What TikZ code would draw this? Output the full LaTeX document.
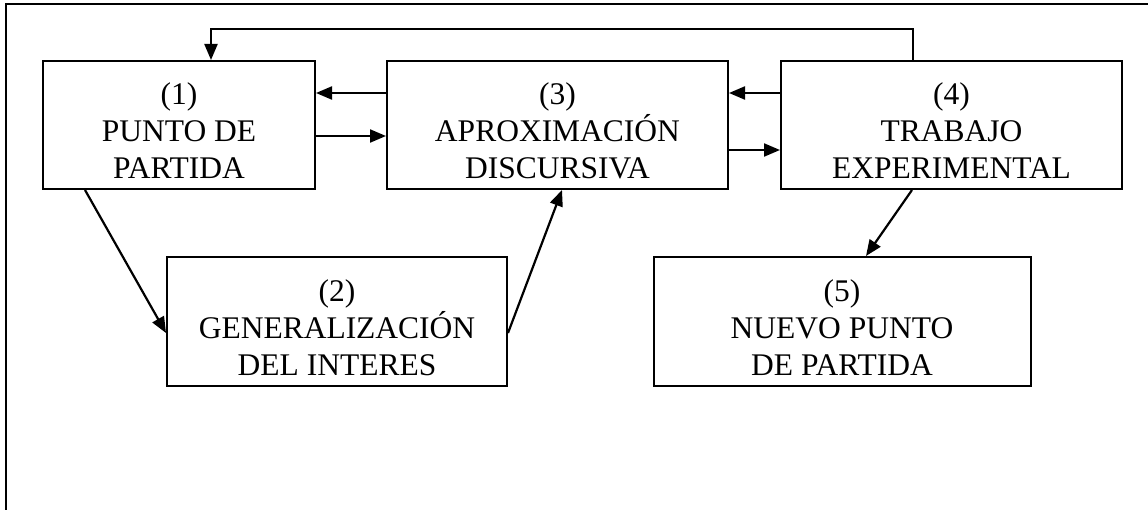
\documentclass[tikz,border=0pt]{standalone}
\usepackage{fontspec}
\setmainfont{Liberation Serif}
\usetikzlibrary{arrows.meta}
\newcommand\tupfill{\rule{0pt}{34pt}}
\begin{document}
\begin{tikzpicture}[x=1pt,y=-1pt,
  box/.style={draw,line width=2pt,align=center,inner sep=0pt,
    font=\fontsize{31.5}{37}\selectfont},
  arr/.style={line width=2.2pt,-{Triangle[length=16pt,width=13pt]}}]
\useasboundingbox (0,0) rectangle (1148,510);
\draw[line width=2.6pt] (6,510) -- (6,4) -- (1148,4);
\node[box,minimum width=272pt,minimum height=128pt] (b1) at (179,125) {\tupfill(1)\\PUNTO DE\\PARTIDA};
\node[box,minimum width=341pt,minimum height=128pt] (b3) at (557.5,125) {\tupfill(3)\\APROXIMACIÓN\\DISCURSIVA};
\node[box,minimum width=341pt,minimum height=128pt] (b4) at (951.5,125) {\tupfill(4)\\TRABAJO\\EXPERIMENTAL};
\node[box,minimum width=340pt,minimum height=129pt] (b2) at (337,321.5) {\tupfill(2)\\GENERALIZACIÓN\\DEL INTERES};
\node[box,minimum width=377pt,minimum height=129pt] (b5) at (842,321.5) {\tupfill(5)\\NUEVO PUNTO\\DE PARTIDA};
\coordinate (top) at (0,29);
\coordinate (f1) at ([xshift=32pt]b1.north);
\coordinate (f4) at ([xshift=-38.5pt]b4.north);
\draw[arr] (f4) -- (f4 |- top) -- (f1 |- top) -- (f1);
\draw[arr] ([yshift=32pt]b3.west) -- ([yshift=32pt]b1.east);
\draw[arr] ([yshift=-11pt]b1.east) -- ([yshift=-11pt]b3.west);
\draw[arr] ([yshift=32pt]b4.west) -- ([yshift=32pt]b3.east);
\draw[arr] ([yshift=-25pt]b3.east) -- ([yshift=-25pt]b4.west);
\draw[arr] ([xshift=-94pt]b1.south) -- ([yshift=-11.5pt]b2.west);
\draw[arr] ([yshift=-11.5pt]b2.east) -- ([xshift=4.5pt]b3.south);
\draw[arr] ([xshift=-39.5pt]b4.south) -- ([xshift=24pt]b5.north);
\end{tikzpicture}
\end{document}
